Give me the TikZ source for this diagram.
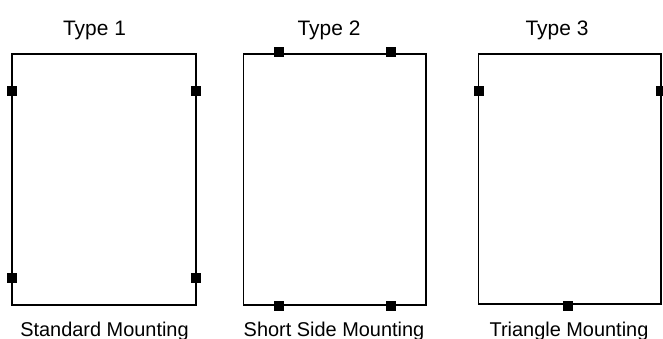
\documentclass[tikz,border=0pt]{standalone}
\usepackage{fontspec}
\setmainfont{Liberation Sans}
\begin{document}
\begin{tikzpicture}[x=1bp,y=-1bp,
  frame/.style={draw=black,line width=1.8bp},
  mount/.style={fill=black,inner sep=0pt,minimum size=10bp,rectangle},
  title/.style={anchor=base,inner sep=0pt,font=\fontsize{21}{24}\selectfont},
  label/.style={anchor=base,inner sep=0pt,font=\fontsize{20}{24}\selectfont}]
\useasboundingbox (0,0) rectangle (663,338);
% Type 1
\draw[frame] (12,54) rectangle (196,305);
\node[mount] (a1) at (12,91) {};
\node[mount] (a2) at (196,91) {};
\node[mount] (a3) at (12,277.5) {};
\node[mount] (a4) at (196,277.5) {};
\node[title] (t1) at (94.5,35) {Type 1};
\node[label] (l1) at (104.5,336.5) {Standard Mounting};
% Type 2
\draw[frame] (243.5,54) rectangle (426,305);
\node[mount] (b1) at (279,51.5) {};
\node[mount] (b2) at (391,51.5) {};
\node[mount] (b3) at (279,306) {};
\node[mount] (b4) at (391,306) {};
\node[title] (t2) at (329,35) {Type 2};
\node[label] (l2) at (334,336.5) {Short Side Mounting};
% Type 3
\draw[frame] (478.5,54) rectangle (661,304);
\node[mount] (c1) at (478.5,91) {};
\node[mount] (c2) at (661,91) {};
\node[mount] (c3) at (568,305.5) {};
\node[title] (t3) at (557,35) {Type 3};
\node[label] (l3) at (569,336.5) {Triangle Mounting};
\end{tikzpicture}
\end{document}
